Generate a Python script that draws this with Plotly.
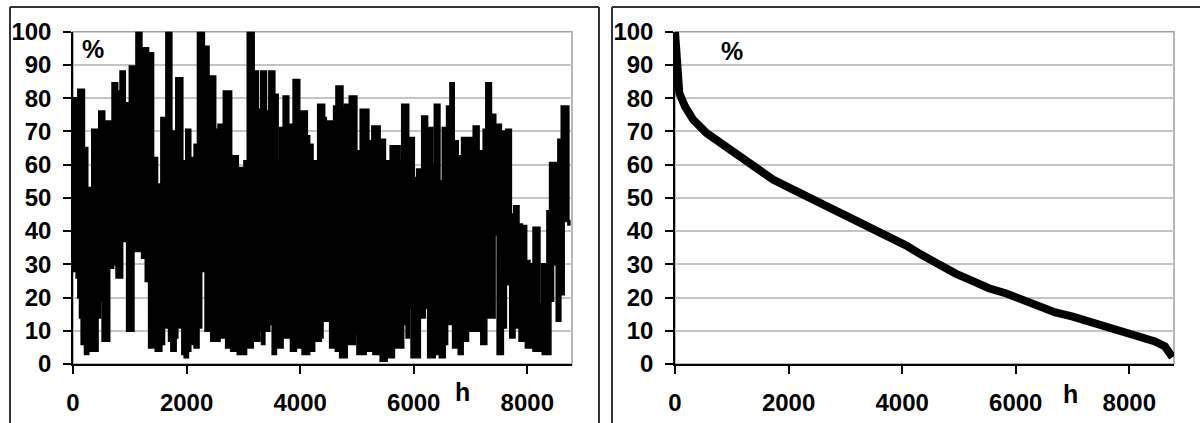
import plotly.graph_objects as go

# ---- data ----
# Left panel: hourly load (%), upper and lower envelope of the dense trace (start hour of each step)
upper_hours = [0, 94, 193, 251, 339, 433, 462, 550, 591, 696, 778, 837, 913, 1000, 1117, 1205, 1322, 1410,
               1480, 1556, 1644, 1732, 1819, 1925, 1995, 2065, 2141, 2200, 2305, 2387, 2504, 2562, 2656,
               2785, 2902, 2989, 3019, 3077, 3182, 3253, 3288, 3311, 3399, 3457, 3545, 3604, 3650, 3709,
               3791, 3884, 3984, 4013, 4118, 4159, 4218, 4317, 4423, 4452, 4598, 4639, 4745, 4791, 4873,
               4990, 5066, 5201, 5271, 5400, 5493, 5593, 5751, 5797, 5903, 6002, 6061, 6149, 6236, 6324,
               6371, 6453, 6511, 6587, 6646, 6705, 6775, 6851, 7056, 7143, 7202, 7231, 7278, 7360, 7436,
               7535, 7594, 7629, 7711, 7769, 7845, 7904, 7980, 8038, 8109, 8214, 8261, 8354, 8401, 8506,
               8547, 8606, 8723, 8760]
upper_pct = [80, 82.5, 65, 53, 70.5, 55, 76, 54, 73, 84.5, 82, 88, 78.5, 89.5, 100, 95, 93.5, 62,
             54, 74, 100, 70, 86, 61, 70.5, 62, 66, 100, 95.5, 86.5, 70.5, 72, 82,
             62.5, 59, 48, 61, 100, 88, 76.5, 67.5, 88, 76, 88, 81, 61, 71, 80.5,
             72, 85.5, 70, 76, 68.5, 66, 61, 78, 74, 73, 77.5, 83.5, 77, 78, 80.5,
             64, 76.5, 67, 71.5, 67.5, 61, 65.5, 61, 78, 68, 56, 58.5, 74.5, 71, 60,
             78, 55, 71, 77.5, 84.5, 67, 62.5, 68, 71.5, 64, 56.5, 70.5, 84.5, 75, 72,
             70, 52, 70.5, 45, 47.5, 42, 41.5, 31, 30, 41, 18, 30, 46, 60.5, 53.5,
             67.5, 77.5, 42, 42]

lower_hours = [0, 64, 94, 123, 152, 211, 269, 298, 433, 474, 521, 638, 708, 766, 866, 895, 953, 1065,
               1182, 1217, 1281, 1340, 1457, 1556, 1603, 1656, 1691, 1732, 1808, 1837, 1878, 1925, 1966,
               2024, 2065, 2141, 2211, 2258, 2334, 2434, 2580, 2656, 2697, 2785, 2902, 3048, 3165, 3282,
               3329, 3370, 3457, 3516, 3574, 3691, 3838, 3925, 4042, 4159, 4247, 4364, 4394, 4528, 4627,
               4704, 4820, 4961, 5008, 5154, 5289, 5417, 5523, 5651, 5815, 5874, 5914, 5961, 6108, 6195,
               6254, 6371, 6459, 6546, 6588, 6693, 6792, 6862, 6956, 7190, 7278, 7424, 7477, 7570, 7623,
               7699, 7775, 7863, 7974, 8109, 8190, 8272, 8407, 8454, 8518, 8582, 8641, 8760]
lower_pct = [28, 26, 20, 14, 6, 3, 8, 4, 14, 19, 7, 29, 30, 26, 49, 37, 10, 34,
             42, 32, 25, 5, 4, 6, 11, 14, 7, 4, 8, 16, 11, 3, 2,
             4, 6, 5, 11, 28, 10, 7, 8, 15, 5, 4, 3, 5, 7, 10,
             6, 10, 12, 3, 5, 8, 4, 5, 3, 4, 7, 8, 13, 5, 4,
             2, 6, 9, 3, 4, 3, 1, 2, 5, 12, 8, 17, 2, 14, 17,
             2, 3, 2, 6, 12, 5, 3, 7, 10, 6, 14, 39, 3, 11, 24,
             8, 11, 7, 5, 4, 4, 3, 19, 30, 13, 21, 43, 43]

# Right panel: load duration curve (%)
duration_hours = [0, 40, 76, 175, 321, 556, 848, 1141, 1433, 1726, 2018, 2311, 2603, 2895, 3188, 3480,
                  3773, 4065, 4357, 4650, 4942, 5235, 5527, 5820, 6112, 6405, 6697, 6990, 7282, 7575,
                  7867, 8159, 8452, 8627, 8715, 8760]
duration_pct = [100, 89.5, 81.5, 77.5, 73.5, 69.5, 66, 62.5, 59, 55.5, 53, 50.5, 48, 45.5, 43, 41,
                38.5, 35.7, 32.7, 29.7, 27.2, 25, 22.8, 21.3, 19.3, 17.3, 15.5, 14.3, 12.8, 11.3,
                9.8, 8.8, 6.8, 5.3, 2.8, 2]

x_ticks = [0, 2000, 4000, 6000, 8000]
y_ticks = [0, 10, 20, 30, 40, 50, 60, 70, 80, 90, 100]

W, H = 1200, 423
FONT = "Liberation Sans, Arial, sans-serif"


def px(x):
    return x / W


def py(y):
    return 1 - y / H


fig = go.Figure()

# left panel: filled envelope of the hourly series
fig.add_trace(go.Scatter(x=lower_hours, y=lower_pct, mode="lines", line=dict(color="black", width=2.5, shape="hv"),
                         xaxis="x", yaxis="y", showlegend=False, hoverinfo="skip"))
fig.add_trace(go.Scatter(x=upper_hours, y=upper_pct, mode="lines", line=dict(color="black", width=2.5, shape="hv"),
                         fill="tonexty", fillcolor="black",
                         xaxis="x", yaxis="y", showlegend=False, hoverinfo="skip"))

# right panel: duration curve
fig.add_trace(go.Scatter(x=duration_hours, y=duration_pct, mode="lines",
                         line=dict(color="black", width=8),
                         xaxis="x2", yaxis="y2", showlegend=False, hoverinfo="skip"))

xr = [0, 8787]
tick_font = dict(family=FONT, size=24, color="black", weight="bold")
common_x = dict(range=xr, tickvals=x_ticks, ticks="outside", ticklen=8, tickwidth=1.5, tickcolor="black",
                showline=True, linecolor="black", linewidth=1.5, showgrid=False, zeroline=False,
                tickfont=tick_font, ticklabelstandoff=8, automargin=False)
common_y = dict(range=[0, 100], tickvals=y_ticks, ticks="outside", ticklen=8, tickwidth=1.5, tickcolor="black",
                showline=True, linecolor="black", linewidth=1.5, showgrid=True, gridcolor="#c4c4c4",
                gridwidth=1.5, zeroline=False,
                tickfont=tick_font, ticklabelstandoff=7, automargin=False)

fig.update_layout(
    width=W, height=H, margin=dict(l=0, r=0, t=0, b=0, pad=0, autoexpand=False),
    paper_bgcolor="white", plot_bgcolor="white",
    xaxis=dict(domain=[px(73), px(572)], anchor="y", **common_x),
    yaxis=dict(domain=[py(364), py(31.7)], anchor="x", **common_y),
    xaxis2=dict(domain=[px(675), px(1174)], anchor="y2", **common_x),
    yaxis2=dict(domain=[py(364), py(31.7)], anchor="x2", **common_y),
)

shapes = []
# gray plot-area borders (top / right)
for xa, ya in [("x", "y"), ("x2", "y2")]:
    shapes.append(dict(type="rect", xref=f"{xa} domain", yref=f"{ya} domain", x0=0, x1=1, y0=0, y1=1,
                       line=dict(color="#a0a0a0", width=1.5), layer="below"))
# outer panel frames (they run off the bottom / right of the picture)
frame = dict(color="#333333", width=2)
shapes += [
    dict(type="line", xref="paper", yref="paper", x0=px(10), x1=px(10), y0=0, y1=py(7), line=frame),
    dict(type="line", xref="paper", yref="paper", x0=px(10), x1=px(599), y0=py(7), y1=py(7), line=frame),
    dict(type="line", xref="paper", yref="paper", x0=px(599), x1=px(599), y0=0, y1=py(7), line=frame),
    dict(type="line", xref="paper", yref="paper", x0=px(612), x1=px(612), y0=0, y1=py(7), line=frame),
    dict(type="line", xref="paper", yref="paper", x0=px(612), x1=1, y0=py(7), y1=py(7), line=frame),
]
fig.update_layout(shapes=shapes)

lab_font = dict(family=FONT, size=25, color="black", weight="bold")
fig.update_layout(annotations=[
    dict(text="%", xref="paper", yref="paper", x=px(93), y=py(49), showarrow=False, font=lab_font,
         xanchor="center", yanchor="middle"),
    dict(text="%", xref="paper", yref="paper", x=px(732), y=py(51), showarrow=False, font=lab_font,
         xanchor="center", yanchor="middle"),
    dict(text="h", xref="paper", yref="paper", x=px(462), y=py(392), showarrow=False, font=lab_font,
         xanchor="center", yanchor="middle"),
    dict(text="h", xref="paper", yref="paper", x=px(1070), y=py(394), showarrow=False, font=lab_font,
         xanchor="center", yanchor="middle"),
])

fig.write_html("out.html", config={"displayModeBar": False},
               post_script="document.body.style.margin='0px';")
